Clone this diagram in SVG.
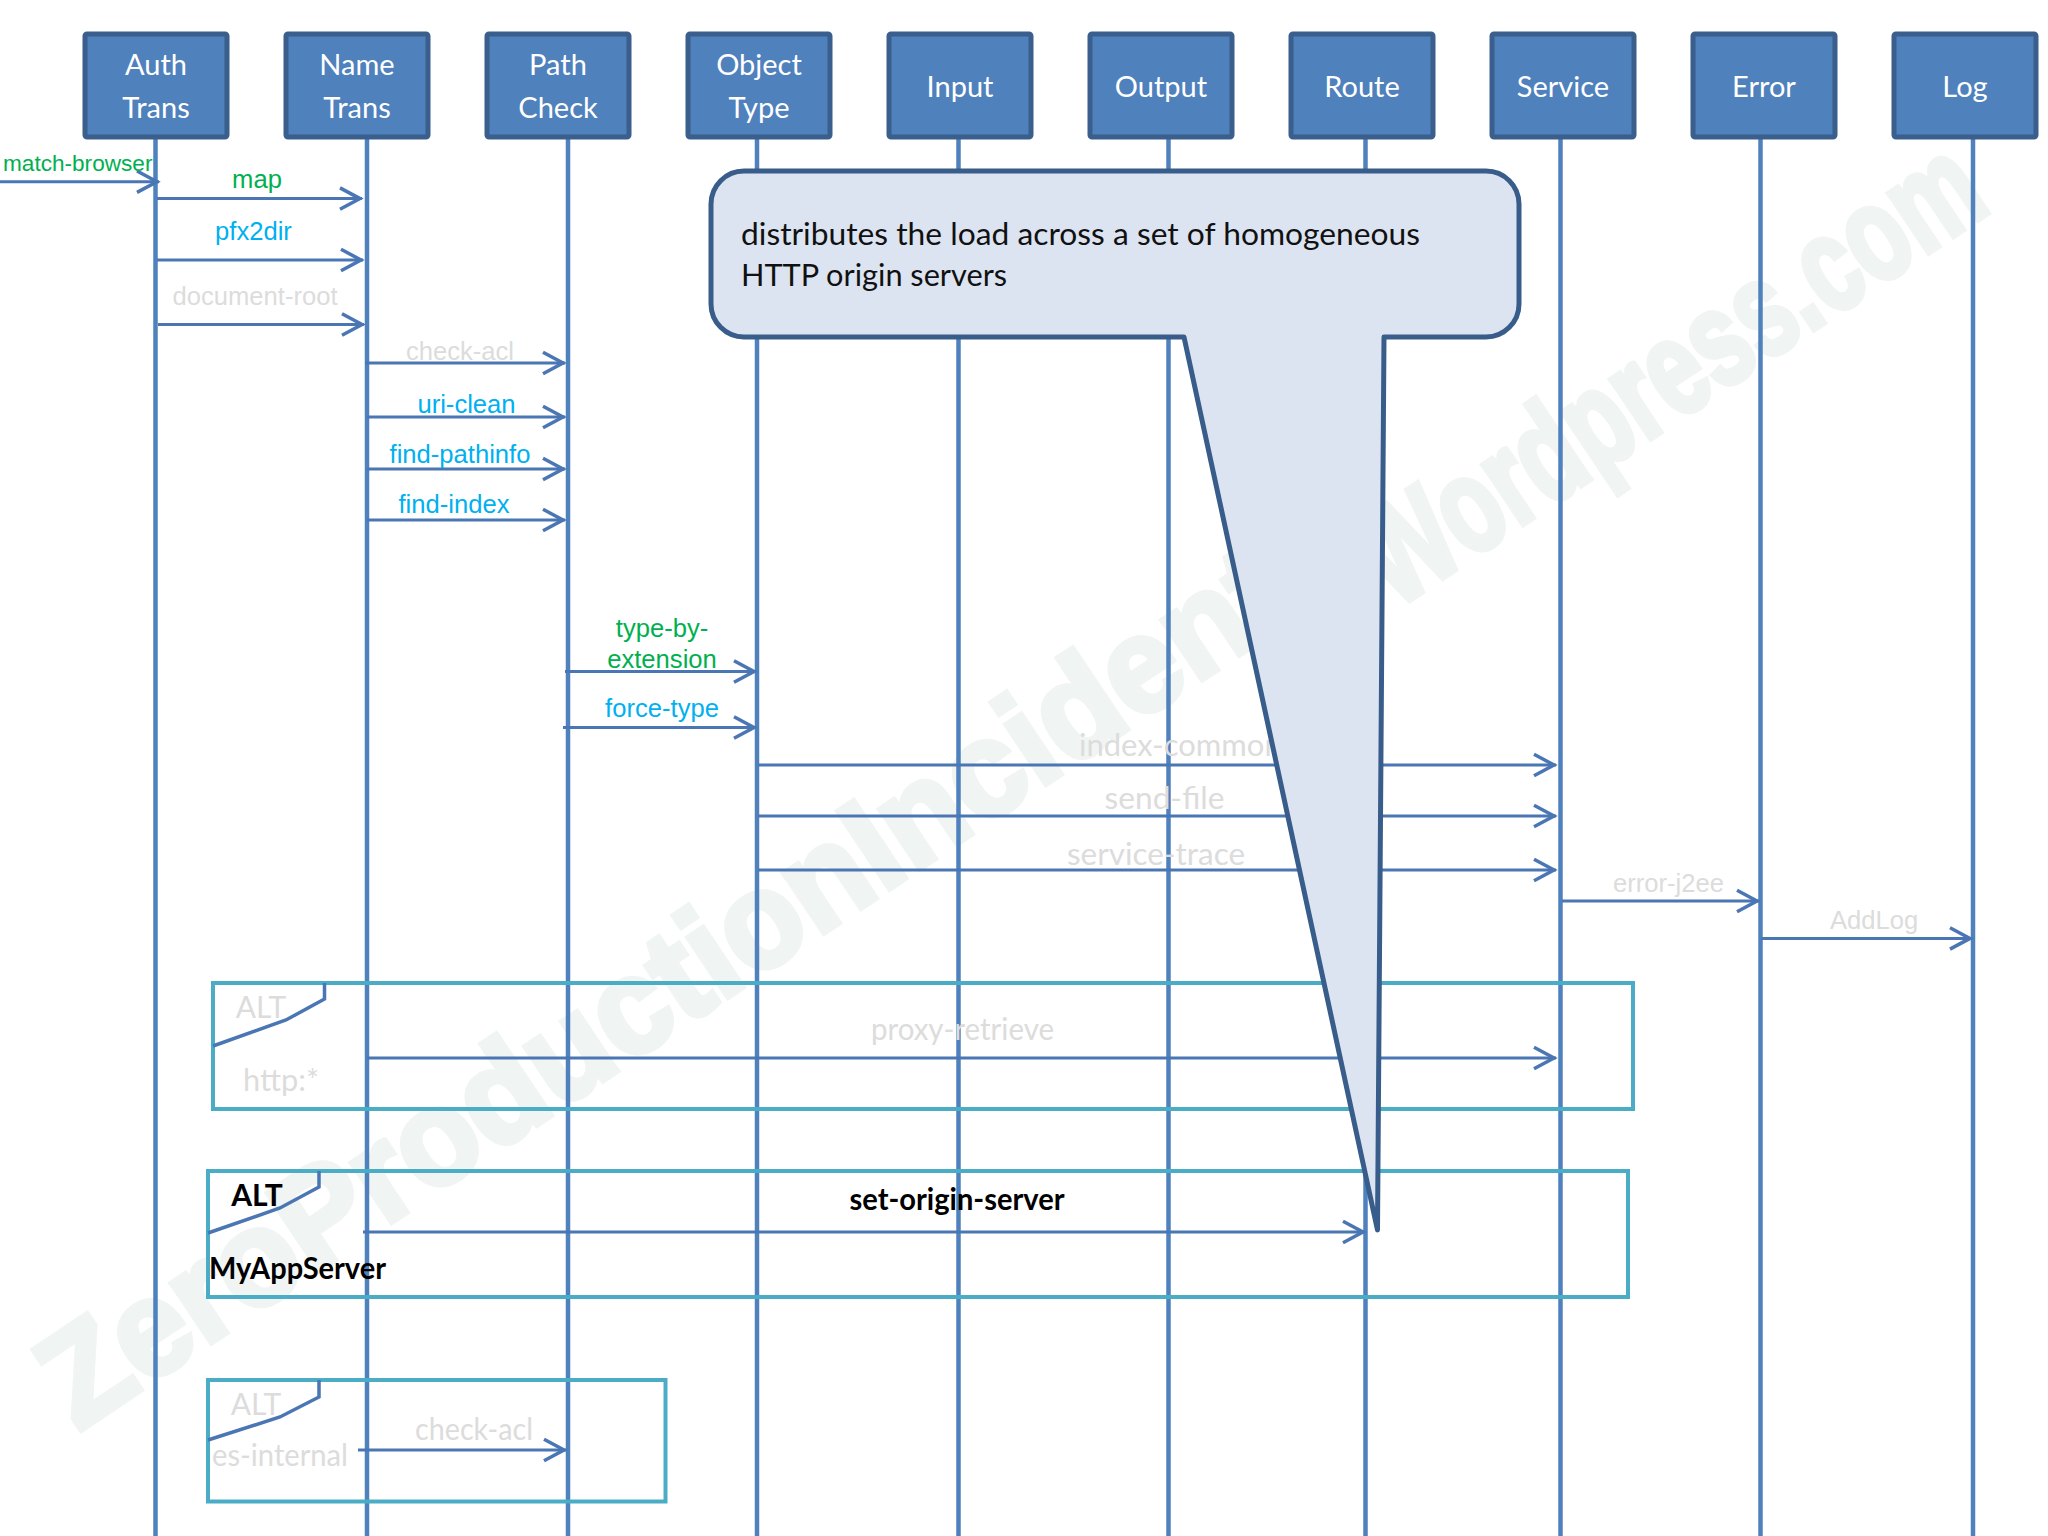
<svg xmlns="http://www.w3.org/2000/svg" width="2048" height="1536" viewBox="0 0 2048 1536">
<style>
.wm{font:bold 135px "Liberation Sans",sans-serif;fill:#f0f4f2;stroke:#f0f4f2;stroke-width:6}
.life{stroke:#4f81bd;stroke-width:4.5;fill:none}
.box{fill:#4f81bd;stroke:#3a5f8c;stroke-width:5}
.bt{font:29px Lato,"Open Sans",sans-serif;fill:#fff;text-anchor:middle}
.msg{stroke:#4a76b4;stroke-width:3;fill:none;marker-end:url(#a)}
.frame{fill:none;stroke:#4bacc6;stroke-width:4}
.tab{fill:none;stroke:#4a76b4;stroke-width:3.5}
.l{font:25.600px "Liberation Sans",Arial,sans-serif;text-anchor:middle}
.c{font:30px Lato,"Open Sans",sans-serif;text-anchor:middle}
.g{fill:#00b050}.b{fill:#00b0f0}.y{fill:#dcdcdc}
.k{font-weight:bold;fill:#000}
.s{text-anchor:start}
.call{fill:#dce4f2;stroke:#385d8a;stroke-width:5;stroke-linejoin:round}
.ct{font:30px Lato,"Open Sans",sans-serif;fill:#111}
</style>
<defs>
<marker id="a" markerUnits="userSpaceOnUse" markerWidth="26" markerHeight="28" refX="24" refY="13" orient="auto" overflow="visible"><path d="M2 2.300L22 13L2 23.700" fill="none" stroke="#4a76b4" stroke-width="3.500"/></marker>
</defs>
<rect width="2048" height="1536" fill="#fff"/>
<g id="watermark">
<text class="wm" transform="translate(78,1432) rotate(-33.800)" textLength="1575" lengthAdjust="spacingAndGlyphs">ZeroProductionIncidents.</text>
<text class="wm" transform="translate(1395,610) rotate(-33.800)" textLength="720" lengthAdjust="spacingAndGlyphs">Wordpress.com</text>
</g>

<g id="lifelines">
<path class="life" d="M155.500 139V1536M367 139V1536M568 139V1536M757 139V1536M958.500 139V1536M1168.500 139V1536M1365.500 139V1536M1560.500 139V1536M1760.500 139V1536M1973 139V1536"/>
</g>

<g id="frames">
<g id="frame-http"><rect class="frame" x="213" y="983" width="1420" height="126"/><path class="tab" d="M324.500 983V999L286 1020L213 1046"/><text class="c y" x="261" y="1018">ALT</text><text class="c y" x="281" y="1091" textLength="76" lengthAdjust="spacingAndGlyphs">http:*</text></g>
<g id="frame-myapp"><rect class="frame" x="208" y="1171" width="1420" height="126"/><path class="tab" d="M319 1171V1187L280 1208L208 1233"/><text class="c k" x="257" y="1206">ALT</text><text class="c k s" x="209" y="1279" textLength="177" lengthAdjust="spacingAndGlyphs">MyAppServer</text></g>
<g id="frame-internal"><rect class="frame" x="208" y="1380" width="457.500" height="121.500"/><path class="tab" d="M319 1380V1397L280 1417L208 1440"/><text class="c y" x="256" y="1415">ALT</text><text class="c y s" x="212" y="1466" textLength="136" lengthAdjust="spacingAndGlyphs">es-internal</text></g>
</g>

<g id="connectors">
<path class="msg" d="M0 181.700H159"/>
<path class="msg" d="M157 198.600H362"/>
<path class="msg" d="M157 260H363"/>
<path class="msg" d="M158 324.500H364"/>
<path class="msg" d="M365 363H565"/>
<path class="msg" d="M367 417H565"/>
<path class="msg" d="M367 469H565"/>
<path class="msg" d="M367 520H565"/>
<path class="msg" d="M565 671.500H756"/>
<path class="msg" d="M563 727.500H756"/>
<path class="msg" d="M758 765H1556"/>
<path class="msg" d="M758 816H1556"/>
<path class="msg" d="M758 870H1556"/>
<path class="msg" d="M1562 901H1759"/>
<path class="msg" d="M1761 938.400H1972"/>
<path class="msg" d="M367 1058H1556"/>
<path class="msg" d="M363 1232H1365"/>
<path class="msg" d="M358 1450H566"/>
</g>

<g id="labels">
<text class="l g s" x="3" y="171" style="font-size:22.600px">match-browser</text>
<text class="l g" x="257" y="188">map</text>
<text class="l b" x="253.500" y="240">pfx2dir</text>
<text class="l y" x="255" y="305">document-root</text>
<text class="l y" x="460" y="360">check-acl</text>
<text class="l b" x="466.500" y="413">uri-clean</text>
<text class="l b" x="460" y="463">find-pathinfo</text>
<text class="l b" x="454" y="513">find-index</text>
<text class="l g" x="662" y="637">type-by-</text>
<text class="l g" x="662" y="668">extension</text>
<text class="l b" x="662" y="717">force-type</text>
<text class="c y s" x="1079" y="756" style="font-size:31px">index-common</text>
<text class="c y" x="1164.500" y="809" textLength="120" lengthAdjust="spacingAndGlyphs">send-file</text>
<text class="c y" x="1156" y="865" textLength="178" lengthAdjust="spacingAndGlyphs">service-trace</text>
<text class="l y" x="1668.500" y="892">error-j2ee</text>
<text class="l y" x="1874" y="929">AddLog</text>
<text class="c y" x="962.500" y="1040" textLength="183" lengthAdjust="spacingAndGlyphs">proxy-retrieve</text>
<text class="c k" x="957" y="1210" textLength="215" lengthAdjust="spacingAndGlyphs">set-origin-server</text>
<text class="c y" x="474" y="1440" textLength="118" lengthAdjust="spacingAndGlyphs">check-acl</text>
</g>

<g id="lifeline-boxes">
<g id="n-auth"><rect class="box" x="85" y="34" width="142" height="103" rx="2"/><text class="bt" x="156" y="75">Auth</text><text class="bt" x="156" y="118">Trans</text></g>
<g id="n-name"><rect class="box" x="286" y="34" width="142" height="103" rx="2"/><text class="bt" x="357" y="75">Name</text><text class="bt" x="357" y="118">Trans</text></g>
<g id="n-path"><rect class="box" x="487" y="34" width="142" height="103" rx="2"/><text class="bt" x="558" y="75">Path</text><text class="bt" x="558" y="118">Check</text></g>
<g id="n-object"><rect class="box" x="688" y="34" width="142" height="103" rx="2"/><text class="bt" x="759" y="75">Object</text><text class="bt" x="759" y="118">Type</text></g>
<g id="n-input"><rect class="box" x="889" y="34" width="142" height="103" rx="2"/><text class="bt" x="960" y="97">Input</text></g>
<g id="n-output"><rect class="box" x="1090" y="34" width="142" height="103" rx="2"/><text class="bt" x="1161" y="97">Output</text></g>
<g id="n-route"><rect class="box" x="1291" y="34" width="142" height="103" rx="2"/><text class="bt" x="1362" y="97">Route</text></g>
<g id="n-service"><rect class="box" x="1492" y="34" width="142" height="103" rx="2"/><text class="bt" x="1563" y="97">Service</text></g>
<g id="n-error"><rect class="box" x="1693" y="34" width="142" height="103" rx="2"/><text class="bt" x="1764" y="97">Error</text></g>
<g id="n-log"><rect class="box" x="1894" y="34" width="142" height="103" rx="2"/><text class="bt" x="1965" y="97">Log</text></g>
</g>

<g id="callout">
<path class="call" d="M744 171H1486A33 33 0 0 1 1519 204V304A33 33 0 0 1 1486 337H1384L1377.500 1230L1184 337H744A33 33 0 0 1 711 304V204A33 33 0 0 1 744 171Z"/>
<text class="ct" x="741" y="245" textLength="679" lengthAdjust="spacingAndGlyphs">distributes the load across a set of homogeneous</text>
<text class="ct" x="741" y="286" textLength="266" lengthAdjust="spacingAndGlyphs">HTTP origin servers</text>
</g>
</svg>
